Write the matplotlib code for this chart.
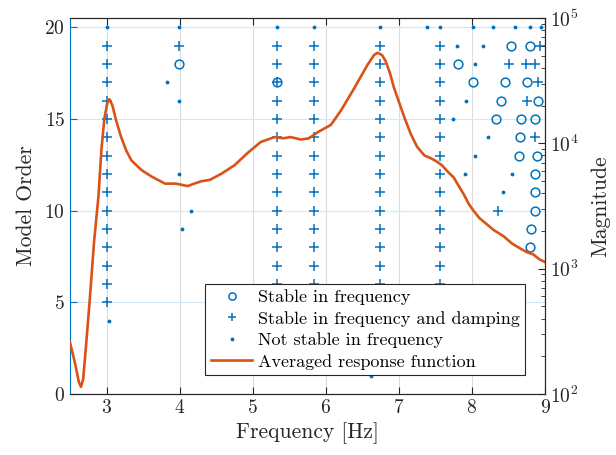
import numpy as np
import matplotlib
matplotlib.use("Agg")
import matplotlib.pyplot as plt
from matplotlib.lines import Line2D

# averaged response function (frequency [Hz], magnitude)
resp_freq = [2.50, 2.55, 2.58, 2.62, 2.65, 2.68, 2.72, 2.77, 2.83, 2.89, 2.93, 2.97,
             3.01, 3.04, 3.08, 3.13, 3.20, 3.27, 3.34, 3.48, 3.61, 3.80, 3.95, 4.11,
             4.20, 4.30, 4.41, 4.57, 4.75, 4.93, 5.11, 5.30, 5.42, 5.52, 5.66, 5.77,
             5.89, 6.07, 6.21, 6.39, 6.57, 6.66, 6.71, 6.77, 6.82, 6.88, 6.93, 7.07,
             7.16, 7.25, 7.35, 7.43, 7.52, 7.59, 7.68, 7.75, 7.82, 7.89, 7.96, 8.02,
             8.10, 8.20, 8.30, 8.43, 8.55, 8.66, 8.75, 8.84, 8.92, 9.00]
resp_mag = [257, 196, 164, 125, 114, 131, 245, 562, 1660, 3800, 8910, 15700,
            21000, 22500, 20100, 15300, 11200, 8750, 7310, 6110, 5460, 4770, 4770, 4560,
            4770, 4990, 5100, 5710, 6680, 8370, 10250, 11220, 10970, 11220, 10720, 10970,
            12270, 14030, 18370, 27540, 42170, 50580, 52850, 50580, 45190, 36060, 28180, 16440,
            11990, 9380, 8000, 7650, 7150, 6680, 5850, 5350, 4560, 3900, 3260, 2910,
            2540, 2270, 2030, 1820, 1585, 1450, 1355, 1300, 1190, 1130]

# poles stable in frequency (circles)
sf_freq = [3.99, 5.33, 8.53, 8.79, 7.81, 8.01, 8.45, 8.75, 8.40, 8.90, 8.33, 8.67,
           8.87, 8.66, 8.65, 8.89, 8.87, 8.87, 8.87, 8.81, 8.80]
sf_order = [18, 17, 19, 19, 18, 17, 17, 17, 16, 16, 15, 15,
            15, 14, 13, 13, 12, 11, 10, 9, 8]

# poles stable in frequency and damping (plus)
col_freq = [3.00, 5.33, 5.84, 6.74, 7.56]
col_orders = list(range(5, 20))
sd_freq = [3.99, 8.93, 8.51, 8.74, 8.87, 8.91, 8.75, 8.87, 8.36]
sd_order = [19, 19, 18, 18, 18, 17, 16, 14, 10]

# poles not stable in frequency (dots)
ns_freq = [3.00, 3.99, 5.33, 5.84, 6.74, 7.39, 7.56, 8.01, 8.29, 8.59, 8.79, 8.95,
           7.80, 8.15, 8.04, 7.92, 7.74, 8.22, 8.04, 7.90, 8.55, 8.43,
           3.83, 3.99, 3.99, 4.15, 4.03, 3.04, 6.62]
ns_order = [20, 20, 20, 20, 20, 20, 20, 20, 20, 20, 20, 20,
            19, 19, 18, 16, 15, 14, 13, 12, 12, 11,
            17, 16, 12, 10, 9, 4, 1]

blue = '#0072BD'
orange = '#D95319'
dark = '#262626'


def main():
    plt.rcParams['font.family'] = 'cmr10'
    plt.rcParams['mathtext.fontset'] = 'cm'
    plt.rcParams['axes.formatter.use_mathtext'] = True

    fig = plt.figure(figsize=(6.16, 4.55), dpi=100)
    ax = fig.add_axes([70/616, 1 - 394/455, 475/616, 376/455])

    # plus columns
    pf = [f for f in col_freq for o in col_orders] + sd_freq
    po = [o for f in col_freq for o in col_orders] + sd_order

    ax.plot(sf_freq, sf_order, 'o', mfc='none', mec=blue, ms=6.3, mew=1.1, ls='none')
    ax.plot(pf, po, '+', color=blue, ms=7.5, mew=1.1, ls='none')
    ax.plot(ns_freq, ns_order, '.', color=blue, ms=3.5, ls='none')

    ax.set_xlim(2.5, 9)
    ax.set_ylim(0, 20.5)
    ax.set_xticks(range(3, 10))
    ax.set_yticks([0, 5, 10, 15, 20])
    ax.grid(True, axis='x', color='#dcdcdc', lw=0.8)
    ax.grid(True, axis='y', color='#d6e6f3', lw=0.8)
    ax.set_axisbelow(True)
    ax.tick_params(direction='in', top=True, labelsize=14, colors=dark, length=5)
    ax.tick_params(axis='y', colors=blue, labelcolor=dark)
    for s in ['top', 'bottom', 'right']:
        ax.spines[s].set_color(dark)
    ax.spines['left'].set_color(blue)
    ax.set_xlabel('Frequency [Hz]', fontsize=15.5, color=dark, labelpad=4)
    ax.set_ylabel('Model Order', fontsize=15.5, color=dark, labelpad=6)

    ax2 = ax.twinx()
    ax2.plot(resp_freq, resp_mag, color=orange, lw=1.9)
    ax2.set_yscale('log')
    ax2.set_ylim(1e2, 1e5)
    ax2.set_xlim(2.5, 9)
    ax2.tick_params(which='both', direction='in', colors=dark, labelsize=14)
    ax2.tick_params(which='major', length=5)
    ax2.tick_params(which='minor', length=3)
    ax2.spines['left'].set_visible(False)
    for s in ['top', 'bottom', 'right']:
        ax2.spines[s].set_color(dark)
    ax2.set_ylabel('Magnitude', fontsize=15.5, color=dark, labelpad=9)

    handles = [
        Line2D([], [], marker='o', mfc='none', mec=blue, ms=5.2, mew=1.1, ls='none'),
        Line2D([], [], marker='+', color=blue, ms=6.3, mew=1.1, ls='none'),
        Line2D([], [], marker='.', color=blue, ms=3.5, ls='none'),
        Line2D([], [], color=orange, lw=1.9),
    ]
    labels = ['Stable in frequency', 'Stable in frequency and damping',
              'Not stable in frequency', 'Averaged response function']
    leg = ax2.legend(handles, labels, loc='lower right', bbox_to_anchor=(0.958, 0.05),
                     borderaxespad=0, fancybox=False, framealpha=1, edgecolor=dark,
                     fontsize=13, handlelength=2.3, handletextpad=0.3,
                     labelspacing=0.32, borderpad=0.3)
    leg.get_frame().set_linewidth(0.8)

    fig.savefig('out.png', dpi=100)


if __name__ == '__main__':
    main()
